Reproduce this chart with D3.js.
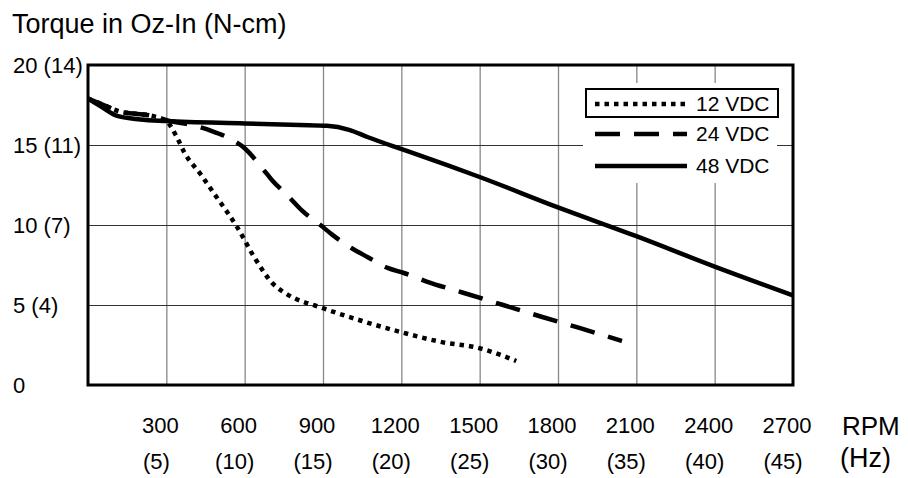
<!DOCTYPE html>
<html>
<head>
<meta charset="utf-8">
<script src="https://cdn.jsdelivr.net/npm/d3@7"></script>
<style>
  body { margin: 0; background: #fff; }
  svg { font-family: "Liberation Sans", Arial, sans-serif; }
</style>
</head>
<body>
<div id="container"></div>
<script>
// torque curves, rpm vs oz-in
const rpm12 = [0, 60, 120, 250, 300, 340, 370, 430, 490, 570, 640, 710, 760, 900, 1050, 1200, 1350, 1500, 1640];
const tq12 = [17.9, 17.5, 17.1, 16.8, 16.5, 15.5, 14.5, 13.2, 11.8, 9.9, 7.9, 6.3, 5.7, 4.8, 4.0, 3.3, 2.7, 2.3, 1.5];

const rpm24 = [0, 60, 120, 250, 300, 410, 470, 555, 600, 665, 705, 770, 820, 890, 935, 1015, 1070, 1150, 1210, 1300, 1440, 1590, 1740, 1885, 2045];
const tq24 = [17.9, 17.5, 17.1, 16.8, 16.55, 16.2, 15.9, 15.3, 14.8, 13.6, 12.8, 11.75, 10.9, 10.0, 9.4, 8.5, 8.0, 7.3, 7.0, 6.45, 5.75, 5.0, 4.25, 3.55, 2.75];

const rpm48 = [0, 50, 115, 200, 300, 600, 810, 915, 1000, 1070, 1190, 1270, 1500, 1800, 2100, 2400, 2700];
const tq48 = [17.9, 17.4, 16.8, 16.6, 16.5, 16.35, 16.25, 16.2, 15.95, 15.5, 14.8, 14.35, 13.0, 11.1, 9.3, 7.4, 5.6];

const xTicks = [300, 600, 900, 1200, 1500, 1800, 2100, 2400, 2700];
const hzLabels = ["(5)", "(10)", "(15)", "(20)", "(25)", "(30)", "(35)", "(40)", "(45)"];
const yTicks = [0, 5, 10, 15, 20];
const yLabels = ["0", "5 (4)", "10 (7)", "15 (11)", "20 (14)"];
const seriesNames = ["12 VDC", "24 VDC", "48 VDC"];

const W = 908, H = 478;
const pL = 88, pR = 793, pT = 65, pB = 385;

const svg = d3.select('#container')
    .append('svg')
    .attr('width', W)
    .attr('height', H);

const xScale = d3.scaleLinear().domain([0, 2700]).range([pL, pR]);
const yScale = d3.scaleLinear().domain([0, 20]).range([pB, pT]);

// grid
svg.append('g')
    .attr('transform', `translate(0, ${pB})`)
    .call(d3.axisBottom(xScale).tickValues(xTicks.slice(0, -1)).tickSize(-(pB - pT)).tickFormat(''))
    .call(g => g.select('.domain').remove())
    .call(g => g.selectAll('line').attr('stroke', '#888').attr('stroke-width', 1.3));

svg.append('g')
    .attr('transform', `translate(${pL}, 0)`)
    .call(d3.axisLeft(yScale).tickValues([5, 10, 15]).tickSize(-(pR - pL)).tickFormat(''))
    .call(g => g.select('.domain').remove())
    .call(g => g.selectAll('line').attr('stroke', '#333').attr('stroke-width', 1));

// y labels
svg.append('g')
    .selectAll('text')
    .data(yTicks)
    .enter()
    .append('text')
    .attr('x', 13)
    .attr('y', d => yScale(d))
    .attr('dy', '0.36em')
    .attr('font-size', 22)
    .text((d, i) => yLabels[i]);

// x labels, two rows
const xl = svg.append('g');
xl.selectAll('.rpm')
    .data(xTicks)
    .enter()
    .append('text')
    .attr('class', 'rpm')
    .attr('x', d => xScale(d) - 6)
    .attr('y', 433)
    .attr('text-anchor', 'middle')
    .attr('font-size', 22)
    .text(d => d);
xl.selectAll('.hz')
    .data(xTicks)
    .enter()
    .append('text')
    .attr('class', 'hz')
    .attr('x', d => xScale(d) - 10)
    .attr('y', 469)
    .attr('text-anchor', 'middle')
    .attr('font-size', 22)
    .text((d, i) => hzLabels[i]);

svg.append('text').attr('x', 842).attr('y', 435).attr('font-size', 26).text('RPM');
svg.append('text').attr('x', 840).attr('y', 467).attr('font-size', 27).text('(Hz)');

svg.append('text')
    .attr('x', 12)
    .attr('y', 33)
    .attr('font-size', 27)
    .text('Torque in Oz-In (N-cm)');

// legend background
svg.append('rect')
    .attr('x', 583).attr('y', 83)
    .attr('width', 194).attr('height', 100)
    .attr('fill', '#fff');

// curves
const line = d3.line()
    .x(d => xScale(d[0]))
    .y(d => yScale(d[1]))
    .curve(d3.curveMonotoneX);

const styles = [
    { dash: '4.5,5', w: 4.5 },
    { dash: '25,14', w: 4.5 },
    { dash: null, w: 4.5 }
];
const series = [
    d3.zip(rpm12, tq12),
    d3.zip(rpm24, tq24),
    d3.zip(rpm48, tq48)
];

series.forEach((s, i) => {
    svg.append('path')
        .datum(s)
        .attr('d', line)
        .attr('fill', 'none')
        .attr('stroke', '#000')
        .attr('stroke-width', styles[i].w)
        .attr('stroke-dasharray', styles[i].dash);
});

// frame
svg.append('rect')
    .attr('x', pL).attr('y', pT)
    .attr('width', pR - pL).attr('height', pB - pT)
    .attr('fill', 'none')
    .attr('stroke', '#000')
    .attr('stroke-width', 3);

// legend
svg.append('rect')
    .attr('x', 586).attr('y', 89)
    .attr('width', 192).attr('height', 28)
    .attr('fill', 'none')
    .attr('stroke', '#000')
    .attr('stroke-width', 2);

const legY = [104, 134, 166];
seriesNames.forEach((name, i) => {
    svg.append('line')
        .attr('x1', 595).attr('x2', 687)
        .attr('y1', legY[i]).attr('y2', legY[i])
        .attr('stroke', '#000')
        .attr('stroke-width', styles[i].w)
        .attr('stroke-dasharray', styles[i].dash);
    svg.append('text')
        .attr('x', 696)
        .attr('y', legY[i] + 7)
        .attr('font-size', 21)
        .text(name);
});
</script>
</body>
</html>
